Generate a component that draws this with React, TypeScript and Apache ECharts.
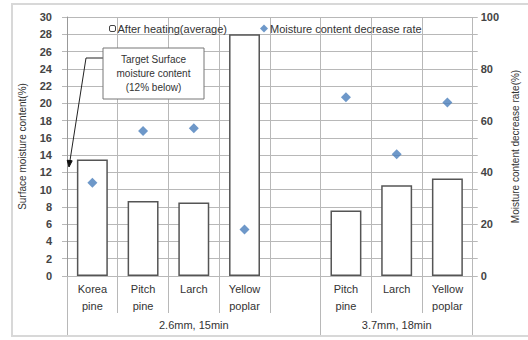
import React, { useEffect, useRef } from "react";
import * as echarts from "echarts";

const categories = ["Korea\npine", "Pitch\npine", "Larch", "Yellow\npoplar", "", "Pitch\npine", "Larch", "Yellow\npoplar"];
const groupNames = ["2.6mm, 15min", "3.7mm, 18min"];
const groupSizes = [5, 3];
const afterHeating: (number | null)[] = [13.5, 8.7, 8.5, 28, null, 7.6, 10.5, 11.3];
const decreaseRate: (number | null)[] = [36, 56, 57, 18, null, 69, 47, 67];
const leftTicks = { min: 0, max: 30, interval: 2 };
const rightTicks = { min: 0, max: 100, interval: 20 };
const seriesNames = ["After heating(average)", "Moisture content decrease rate"];
const annotationText = "Target Surface\nmoisture content\n(12% below)";

const FONT = "'Liberation Sans', Arial, sans-serif";
const GRID = "#b8b8b8";

export default function App() {
  const ref = useRef<HTMLDivElement>(null);
  useEffect(() => {
    if (!ref.current) return;
    const chart = echarts.init(ref.current, undefined, { renderer: "svg" });

    const groupData: string[] = [];
    const groupLabelIdx: number[] = [];
    const groupStartIdx: number[] = [];
    let start = 0;
    groupSizes.forEach((n, g) => {
      groupStartIdx.push(start);
      groupLabelIdx.push(start + Math.floor(n / 2));
      for (let i = 0; i < n; i++) groupData.push("");
      groupData[start + Math.floor(n / 2)] = groupNames[g];
      start += n;
    });

    chart.setOption({
      animation: false,
      textStyle: { fontFamily: FONT },
      grid: { left: 67, right: 55, top: 17, bottom: 64 },
      legend: [
        {
          data: [seriesNames[0]],
          left: 104,
          top: 18,
          itemWidth: 6,
          itemHeight: 6,
          itemStyle: { borderWidth: 1, borderColor: "#444" },
          textStyle: { fontFamily: FONT, fontSize: 11, color: "#333", padding: [0, 0, 0, -3] },
        },
        {
          data: [seriesNames[1]],
          left: 255,
          top: 18,
          itemWidth: 8,
          itemHeight: 8,
          textStyle: { fontFamily: FONT, fontSize: 11, color: "#333", padding: [0, 0, 0, -3] },
        },
      ],
      xAxis: [
        {
          type: "category",
          data: categories,
          position: "bottom",
          axisLine: { show: true, lineStyle: { color: GRID, width: 1 } },
          axisTick: { show: true, interval: 0, length: 37, lineStyle: { color: GRID } },
          axisLabel: { interval: 0, margin: 4, fontSize: 11, lineHeight: 17, color: "#333", fontFamily: FONT },
          splitLine: { show: true, interval: 0, lineStyle: { color: GRID, width: 1 } },
        },
        {
          type: "category",
          data: groupData,
          position: "bottom",
          axisLine: { show: false },
          axisTick: {
            show: true,
            interval: (i: number) => groupStartIdx.indexOf(i) >= 0,
            length: 60,
            lineStyle: { color: GRID },
          },
          axisLabel: {
            interval: (i: number) => groupLabelIdx.indexOf(i) >= 0,
            margin: 43,
            fontSize: 11,
            color: "#333",
            fontFamily: FONT,
          },
          splitLine: { show: false },
        },
      ],
      yAxis: [
        {
          type: "value",
          min: leftTicks.min,
          max: leftTicks.max,
          interval: leftTicks.interval,
          name: "Surface moisture content(%)",
          nameLocation: "middle",
          nameGap: 40,
          nameTextStyle: { fontSize: 10, color: "#333", fontFamily: FONT },
          axisLine: { show: true, lineStyle: { color: "#999" } },
          axisTick: { show: true, length: 5, lineStyle: { color: GRID } },
          axisLabel: { margin: 15, fontSize: 11, fontWeight: "bold", color: "#444", fontFamily: FONT },
          splitLine: { show: true, lineStyle: { color: GRID, width: 1 } },
        },
        {
          type: "value",
          min: rightTicks.min,
          max: rightTicks.max,
          interval: rightTicks.interval,
          position: "right",
          name: "Moisture content decrease rate(%)",
          nameLocation: "middle",
          nameGap: 33,
          nameTextStyle: { fontSize: 10, color: "#333", fontFamily: FONT },
          axisLine: { show: false },
          axisTick: { show: true, length: 5, lineStyle: { color: GRID } },
          minorTick: { show: true, splitNumber: 3, length: 5, lineStyle: { color: GRID } },
          axisLabel: { margin: 8, fontSize: 11, fontWeight: "bold", color: "#444", fontFamily: FONT },
          splitLine: { show: false },
        },
      ],
      series: [
        {
          name: seriesNames[0],
          type: "bar",
          data: afterHeating,
          xAxisIndex: 0,
          yAxisIndex: 0,
          barWidth: "61%",
          itemStyle: { color: "#ffffff", borderColor: "#555", borderWidth: 1.5 },
        },
        {
          name: seriesNames[1],
          type: "scatter",
          data: decreaseRate,
          xAxisIndex: 0,
          yAxisIndex: 1,
          symbol: "diamond",
          symbolSize: 10,
          itemStyle: { color: "#4a7ebb" },
        },
      ],
      graphic: [
        {
          type: "rect",
          shape: { x: 12, y: 4, width: 530, height: 332 },
          style: { fill: "none", stroke: "#d8d8d8", lineWidth: 2 },
          silent: true,
          z: 100,
        },
        {
          type: "polyline",
          shape: { points: [[103, 58], [86, 58], [69.6, 163]] },
          style: { fill: "none", stroke: "#222", lineWidth: 1 },
          z: 100,
        },
        {
          type: "polygon",
          shape: { points: [[69, 167], [72.2, 160.8], [67.2, 160.2]] },
          style: { fill: "#111", stroke: "#111" },
          z: 100,
        },
        {
          type: "rect",
          shape: { x: 103, y: 48, width: 101, height: 51 },
          style: { fill: "#fff", stroke: "#777", lineWidth: 1 },
          z: 100,
        },
        {
          type: "text",
          x: 153.5,
          y: 73.5,
          style: {
            text: annotationText,
            fontFamily: FONT,
            fontSize: 10,
            lineHeight: 14,
            fill: "#333",
            align: "center",
            verticalAlign: "middle",
          },
          z: 101,
        },
      ],
    });
    return () => chart.dispose();
  }, []);
  return <div ref={ref} style={{ position: "absolute", left: 0, top: 0, width: 528, height: 340 }} />;
}
